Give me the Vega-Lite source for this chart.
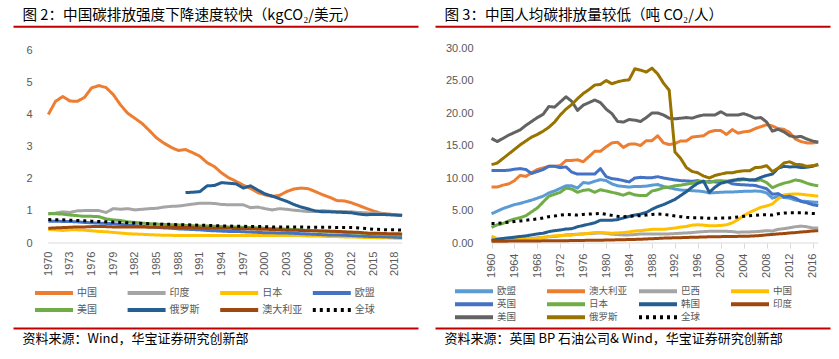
{
"$schema":"https://vega.github.io/schema/vega-lite/v6.json",
"padding":{"left":13,"top":7,"right":9,"bottom":5},
"background":"white",
"spacing":17,
"config":{"view":{"stroke":null},"font":"Noto Sans CJK SC",
"axis":{"labelColor":"#595959","labelFont":"Liberation Sans","labelFontSize":11,"grid":false,"domain":false,"ticks":false,"titleFont":"Noto Sans CJK SC","titleFontWeight":"normal","titleColor":"#000000"},
"legend":{"title":null,"orient":"none","columns":4,"direction":"horizontal","symbolType":"stroke","symbolSize":1444,"symbolStrokeWidth":4,"labelFont":"Noto Sans CJK SC","labelFontSize":10,"labelColor":"#595959","labelOffset":2,"gridAlign":"all","padding":0,"clipHeight":12}},
"datasets":{
"L":[
{"c":"中国","t":1970,"v":4.0},{"c":"中国","t":1971,"v":4.41},{"c":"中国","t":1972,"v":4.56},{"c":"中国","t":1973,"v":4.42},{"c":"中国","t":1974,"v":4.41},{"c":"中国","t":1975,"v":4.53},{"c":"中国","t":1976,"v":4.83},{"c":"中国","t":1977,"v":4.9},{"c":"中国","t":1978,"v":4.84},{"c":"中国","t":1979,"v":4.62},
{"c":"中国","t":1980,"v":4.3},{"c":"中国","t":1981,"v":4.04},{"c":"中国","t":1982,"v":3.88},{"c":"中国","t":1983,"v":3.72},{"c":"中国","t":1984,"v":3.5},{"c":"中国","t":1985,"v":3.27},{"c":"中国","t":1986,"v":3.11},{"c":"中国","t":1987,"v":2.98},{"c":"中国","t":1988,"v":2.88},{"c":"中国","t":1989,"v":2.91},
{"c":"中国","t":1990,"v":2.81},{"c":"中国","t":1991,"v":2.7},{"c":"中国","t":1992,"v":2.5},{"c":"中国","t":1993,"v":2.38},{"c":"中国","t":1994,"v":2.18},{"c":"中国","t":1995,"v":2.03},{"c":"中国","t":1996,"v":1.92},{"c":"中国","t":1997,"v":1.8},{"c":"中国","t":1998,"v":1.7},{"c":"中国","t":1999,"v":1.57},
{"c":"中国","t":2000,"v":1.5},{"c":"中国","t":2001,"v":1.45},{"c":"中国","t":2002,"v":1.48},{"c":"中国","t":2003,"v":1.6},{"c":"中国","t":2004,"v":1.68},{"c":"中国","t":2005,"v":1.71},{"c":"中国","t":2006,"v":1.69},{"c":"中国","t":2007,"v":1.6},{"c":"中国","t":2008,"v":1.5},{"c":"中国","t":2009,"v":1.42},
{"c":"中国","t":2010,"v":1.32},{"c":"中国","t":2011,"v":1.31},{"c":"中国","t":2012,"v":1.25},{"c":"中国","t":2013,"v":1.17},{"c":"中国","t":2014,"v":1.08},{"c":"中国","t":2015,"v":1.0},{"c":"中国","t":2016,"v":0.93},{"c":"中国","t":2017,"v":0.9},{"c":"中国","t":2018,"v":0.88},{"c":"中国","t":2019,"v":0.86},
{"c":"印度","t":1970,"v":0.9},{"c":"印度","t":1971,"v":0.93},{"c":"印度","t":1972,"v":0.97},{"c":"印度","t":1973,"v":0.95},{"c":"印度","t":1974,"v":1.0},{"c":"印度","t":1975,"v":1.01},{"c":"印度","t":1976,"v":1.01},{"c":"印度","t":1977,"v":1.01},{"c":"印度","t":1978,"v":0.95},{"c":"印度","t":1979,"v":1.07},
{"c":"印度","t":1980,"v":1.05},{"c":"印度","t":1981,"v":1.07},{"c":"印度","t":1982,"v":1.03},{"c":"印度","t":1983,"v":1.05},{"c":"印度","t":1984,"v":1.07},{"c":"印度","t":1985,"v":1.08},{"c":"印度","t":1986,"v":1.12},{"c":"印度","t":1987,"v":1.14},{"c":"印度","t":1988,"v":1.15},{"c":"印度","t":1989,"v":1.18},
{"c":"印度","t":1990,"v":1.21},{"c":"印度","t":1991,"v":1.24},{"c":"印度","t":1992,"v":1.24},{"c":"印度","t":1993,"v":1.23},{"c":"印度","t":1994,"v":1.2},{"c":"印度","t":1995,"v":1.19},{"c":"印度","t":1996,"v":1.19},{"c":"印度","t":1997,"v":1.19},{"c":"印度","t":1998,"v":1.1},{"c":"印度","t":1999,"v":1.12},
{"c":"印度","t":2000,"v":1.07},{"c":"印度","t":2001,"v":1.03},{"c":"印度","t":2002,"v":1.07},{"c":"印度","t":2003,"v":1.05},{"c":"印度","t":2004,"v":1.02},{"c":"印度","t":2005,"v":1.0},{"c":"印度","t":2006,"v":0.98},{"c":"印度","t":2007,"v":0.98},{"c":"印度","t":2008,"v":1.01},{"c":"印度","t":2009,"v":0.99},
{"c":"印度","t":2010,"v":0.98},{"c":"印度","t":2011,"v":0.98},{"c":"印度","t":2012,"v":0.97},{"c":"印度","t":2013,"v":0.95},{"c":"印度","t":2014,"v":0.94},{"c":"印度","t":2015,"v":0.93},{"c":"印度","t":2016,"v":0.91},{"c":"印度","t":2017,"v":0.9},{"c":"印度","t":2018,"v":0.88},{"c":"印度","t":2019,"v":0.86},
{"c":"日本","t":1970,"v":0.42},{"c":"日本","t":1971,"v":0.41},{"c":"日本","t":1972,"v":0.39},{"c":"日本","t":1973,"v":0.41},{"c":"日本","t":1974,"v":0.41},{"c":"日本","t":1975,"v":0.4},{"c":"日本","t":1976,"v":0.38},{"c":"日本","t":1977,"v":0.36},{"c":"日本","t":1978,"v":0.35},{"c":"日本","t":1979,"v":0.33},
{"c":"日本","t":1980,"v":0.31},{"c":"日本","t":1981,"v":0.29},{"c":"日本","t":1982,"v":0.28},{"c":"日本","t":1983,"v":0.27},{"c":"日本","t":1984,"v":0.26},{"c":"日本","t":1985,"v":0.25},{"c":"日本","t":1986,"v":0.24},{"c":"日本","t":1987,"v":0.24},{"c":"日本","t":1988,"v":0.23},{"c":"日本","t":1989,"v":0.23},
{"c":"日本","t":1990,"v":0.23},{"c":"日本","t":1991,"v":0.23},{"c":"日本","t":1992,"v":0.23},{"c":"日本","t":1993,"v":0.23},{"c":"日本","t":1994,"v":0.23},{"c":"日本","t":1995,"v":0.23},{"c":"日本","t":1996,"v":0.23},{"c":"日本","t":1997,"v":0.23},{"c":"日本","t":1998,"v":0.23},{"c":"日本","t":1999,"v":0.23},
{"c":"日本","t":2000,"v":0.23},{"c":"日本","t":2001,"v":0.23},{"c":"日本","t":2002,"v":0.23},{"c":"日本","t":2003,"v":0.23},{"c":"日本","t":2004,"v":0.23},{"c":"日本","t":2005,"v":0.23},{"c":"日本","t":2006,"v":0.22},{"c":"日本","t":2007,"v":0.22},{"c":"日本","t":2008,"v":0.21},{"c":"日本","t":2009,"v":0.2},
{"c":"日本","t":2010,"v":0.2},{"c":"日本","t":2011,"v":0.19},{"c":"日本","t":2012,"v":0.19},{"c":"日本","t":2013,"v":0.18},{"c":"日本","t":2014,"v":0.17},{"c":"日本","t":2015,"v":0.17},{"c":"日本","t":2016,"v":0.16},{"c":"日本","t":2017,"v":0.16},{"c":"日本","t":2018,"v":0.15},{"c":"日本","t":2019,"v":0.15},
{"c":"欧盟","t":1970,"v":0.68},{"c":"欧盟","t":1971,"v":0.68},{"c":"欧盟","t":1972,"v":0.67},{"c":"欧盟","t":1973,"v":0.67},{"c":"欧盟","t":1974,"v":0.66},{"c":"欧盟","t":1975,"v":0.64},{"c":"欧盟","t":1976,"v":0.63},{"c":"欧盟","t":1977,"v":0.62},{"c":"欧盟","t":1978,"v":0.61},{"c":"欧盟","t":1979,"v":0.6},
{"c":"欧盟","t":1980,"v":0.58},{"c":"欧盟","t":1981,"v":0.56},{"c":"欧盟","t":1982,"v":0.54},{"c":"欧盟","t":1983,"v":0.52},{"c":"欧盟","t":1984,"v":0.5},{"c":"欧盟","t":1985,"v":0.49},{"c":"欧盟","t":1986,"v":0.47},{"c":"欧盟","t":1987,"v":0.46},{"c":"欧盟","t":1988,"v":0.44},{"c":"欧盟","t":1989,"v":0.43},
{"c":"欧盟","t":1990,"v":0.42},{"c":"欧盟","t":1991,"v":0.41},{"c":"欧盟","t":1992,"v":0.39},{"c":"欧盟","t":1993,"v":0.38},{"c":"欧盟","t":1994,"v":0.37},{"c":"欧盟","t":1995,"v":0.36},{"c":"欧盟","t":1996,"v":0.36},{"c":"欧盟","t":1997,"v":0.35},{"c":"欧盟","t":1998,"v":0.34},{"c":"欧盟","t":1999,"v":0.33},
{"c":"欧盟","t":2000,"v":0.32},{"c":"欧盟","t":2001,"v":0.32},{"c":"欧盟","t":2002,"v":0.31},{"c":"欧盟","t":2003,"v":0.31},{"c":"欧盟","t":2004,"v":0.3},{"c":"欧盟","t":2005,"v":0.29},{"c":"欧盟","t":2006,"v":0.28},{"c":"欧盟","t":2007,"v":0.27},{"c":"欧盟","t":2008,"v":0.26},{"c":"欧盟","t":2009,"v":0.25},
{"c":"欧盟","t":2010,"v":0.25},{"c":"欧盟","t":2011,"v":0.24},{"c":"欧盟","t":2012,"v":0.23},{"c":"欧盟","t":2013,"v":0.22},{"c":"欧盟","t":2014,"v":0.21},{"c":"欧盟","t":2015,"v":0.2},{"c":"欧盟","t":2016,"v":0.2},{"c":"欧盟","t":2017,"v":0.19},{"c":"欧盟","t":2018,"v":0.18},{"c":"欧盟","t":2019,"v":0.17},
{"c":"美国","t":1970,"v":0.92},{"c":"美国","t":1971,"v":0.91},{"c":"美国","t":1972,"v":0.9},{"c":"美国","t":1973,"v":0.87},{"c":"美国","t":1974,"v":0.85},{"c":"美国","t":1975,"v":0.83},{"c":"美国","t":1976,"v":0.83},{"c":"美国","t":1977,"v":0.82},{"c":"美国","t":1978,"v":0.75},{"c":"美国","t":1979,"v":0.72},
{"c":"美国","t":1980,"v":0.7},{"c":"美国","t":1981,"v":0.66},{"c":"美国","t":1982,"v":0.64},{"c":"美国","t":1983,"v":0.62},{"c":"美国","t":1984,"v":0.6},{"c":"美国","t":1985,"v":0.59},{"c":"美国","t":1986,"v":0.58},{"c":"美国","t":1987,"v":0.57},{"c":"美国","t":1988,"v":0.56},{"c":"美国","t":1989,"v":0.55},
{"c":"美国","t":1990,"v":0.54},{"c":"美国","t":1991,"v":0.53},{"c":"美国","t":1992,"v":0.53},{"c":"美国","t":1993,"v":0.52},{"c":"美国","t":1994,"v":0.51},{"c":"美国","t":1995,"v":0.5},{"c":"美国","t":1996,"v":0.5},{"c":"美国","t":1997,"v":0.49},{"c":"美国","t":1998,"v":0.48},{"c":"美国","t":1999,"v":0.47},
{"c":"美国","t":2000,"v":0.46},{"c":"美国","t":2001,"v":0.45},{"c":"美国","t":2002,"v":0.44},{"c":"美国","t":2003,"v":0.43},{"c":"美国","t":2004,"v":0.42},{"c":"美国","t":2005,"v":0.41},{"c":"美国","t":2006,"v":0.39},{"c":"美国","t":2007,"v":0.38},{"c":"美国","t":2008,"v":0.37},{"c":"美国","t":2009,"v":0.35},
{"c":"美国","t":2010,"v":0.35},{"c":"美国","t":2011,"v":0.33},{"c":"美国","t":2012,"v":0.31},{"c":"美国","t":2013,"v":0.31},{"c":"美国","t":2014,"v":0.3},{"c":"美国","t":2015,"v":0.28},{"c":"美国","t":2016,"v":0.27},{"c":"美国","t":2017,"v":0.26},{"c":"美国","t":2018,"v":0.26},{"c":"美国","t":2019,"v":0.24},
{"c":"俄罗斯","t":1989,"v":1.57},
{"c":"俄罗斯","t":1990,"v":1.58},{"c":"俄罗斯","t":1991,"v":1.6},{"c":"俄罗斯","t":1992,"v":1.78},{"c":"俄罗斯","t":1993,"v":1.79},{"c":"俄罗斯","t":1994,"v":1.88},{"c":"俄罗斯","t":1995,"v":1.86},{"c":"俄罗斯","t":1996,"v":1.84},{"c":"俄罗斯","t":1997,"v":1.71},{"c":"俄罗斯","t":1998,"v":1.78},{"c":"俄罗斯","t":1999,"v":1.65},
{"c":"俄罗斯","t":2000,"v":1.53},{"c":"俄罗斯","t":2001,"v":1.46},{"c":"俄罗斯","t":2002,"v":1.38},{"c":"俄罗斯","t":2003,"v":1.3},{"c":"俄罗斯","t":2004,"v":1.2},{"c":"俄罗斯","t":2005,"v":1.12},{"c":"俄罗斯","t":2006,"v":1.06},{"c":"俄罗斯","t":2007,"v":1.0},{"c":"俄罗斯","t":2008,"v":0.97},{"c":"俄罗斯","t":2009,"v":0.97},
{"c":"俄罗斯","t":2010,"v":0.96},{"c":"俄罗斯","t":2011,"v":0.95},{"c":"俄罗斯","t":2012,"v":0.94},{"c":"俄罗斯","t":2013,"v":0.9},{"c":"俄罗斯","t":2014,"v":0.88},{"c":"俄罗斯","t":2015,"v":0.89},{"c":"俄罗斯","t":2016,"v":0.89},{"c":"俄罗斯","t":2017,"v":0.88},{"c":"俄罗斯","t":2018,"v":0.87},{"c":"俄罗斯","t":2019,"v":0.86},
{"c":"澳大利亚","t":1970,"v":0.46},{"c":"澳大利亚","t":1971,"v":0.47},{"c":"澳大利亚","t":1972,"v":0.48},{"c":"澳大利亚","t":1973,"v":0.49},{"c":"澳大利亚","t":1974,"v":0.5},{"c":"澳大利亚","t":1975,"v":0.5},{"c":"澳大利亚","t":1976,"v":0.51},{"c":"澳大利亚","t":1977,"v":0.51},{"c":"澳大利亚","t":1978,"v":0.51},{"c":"澳大利亚","t":1979,"v":0.5},
{"c":"澳大利亚","t":1980,"v":0.5},{"c":"澳大利亚","t":1981,"v":0.5},{"c":"澳大利亚","t":1982,"v":0.5},{"c":"澳大利亚","t":1983,"v":0.5},{"c":"澳大利亚","t":1984,"v":0.49},{"c":"澳大利亚","t":1985,"v":0.49},{"c":"澳大利亚","t":1986,"v":0.49},{"c":"澳大利亚","t":1987,"v":0.49},{"c":"澳大利亚","t":1988,"v":0.48},{"c":"澳大利亚","t":1989,"v":0.48},
{"c":"澳大利亚","t":1990,"v":0.48},{"c":"澳大利亚","t":1991,"v":0.47},{"c":"澳大利亚","t":1992,"v":0.47},{"c":"澳大利亚","t":1993,"v":0.46},{"c":"澳大利亚","t":1994,"v":0.46},{"c":"澳大利亚","t":1995,"v":0.46},{"c":"澳大利亚","t":1996,"v":0.45},{"c":"澳大利亚","t":1997,"v":0.44},{"c":"澳大利亚","t":1998,"v":0.44},{"c":"澳大利亚","t":1999,"v":0.43},
{"c":"澳大利亚","t":2000,"v":0.43},{"c":"澳大利亚","t":2001,"v":0.42},{"c":"澳大利亚","t":2002,"v":0.41},{"c":"澳大利亚","t":2003,"v":0.4},{"c":"澳大利亚","t":2004,"v":0.4},{"c":"澳大利亚","t":2005,"v":0.39},{"c":"澳大利亚","t":2006,"v":0.38},{"c":"澳大利亚","t":2007,"v":0.38},{"c":"澳大利亚","t":2008,"v":0.37},{"c":"澳大利亚","t":2009,"v":0.37},
{"c":"澳大利亚","t":2010,"v":0.36},{"c":"澳大利亚","t":2011,"v":0.35},{"c":"澳大利亚","t":2012,"v":0.34},{"c":"澳大利亚","t":2013,"v":0.33},{"c":"澳大利亚","t":2014,"v":0.31},{"c":"澳大利亚","t":2015,"v":0.3},{"c":"澳大利亚","t":2016,"v":0.3},{"c":"澳大利亚","t":2017,"v":0.29},{"c":"澳大利亚","t":2018,"v":0.29},{"c":"澳大利亚","t":2019,"v":0.28},
{"c":"全球","t":1970,"v":0.73},{"c":"全球","t":1971,"v":0.72},{"c":"全球","t":1972,"v":0.72},{"c":"全球","t":1973,"v":0.71},{"c":"全球","t":1974,"v":0.7},{"c":"全球","t":1975,"v":0.69},{"c":"全球","t":1976,"v":0.68},{"c":"全球","t":1977,"v":0.67},{"c":"全球","t":1978,"v":0.66},{"c":"全球","t":1979,"v":0.65},
{"c":"全球","t":1980,"v":0.64},{"c":"全球","t":1981,"v":0.63},{"c":"全球","t":1982,"v":0.62},{"c":"全球","t":1983,"v":0.61},{"c":"全球","t":1984,"v":0.6},{"c":"全球","t":1985,"v":0.59},{"c":"全球","t":1986,"v":0.58},{"c":"全球","t":1987,"v":0.58},{"c":"全球","t":1988,"v":0.57},{"c":"全球","t":1989,"v":0.57},
{"c":"全球","t":1990,"v":0.56},{"c":"全球","t":1991,"v":0.55},{"c":"全球","t":1992,"v":0.55},{"c":"全球","t":1993,"v":0.54},{"c":"全球","t":1994,"v":0.53},{"c":"全球","t":1995,"v":0.53},{"c":"全球","t":1996,"v":0.52},{"c":"全球","t":1997,"v":0.52},{"c":"全球","t":1998,"v":0.51},{"c":"全球","t":1999,"v":0.51},
{"c":"全球","t":2000,"v":0.51},{"c":"全球","t":2001,"v":0.5},{"c":"全球","t":2002,"v":0.5},{"c":"全球","t":2003,"v":0.5},{"c":"全球","t":2004,"v":0.5},{"c":"全球","t":2005,"v":0.5},{"c":"全球","t":2006,"v":0.49},{"c":"全球","t":2007,"v":0.49},{"c":"全球","t":2008,"v":0.49},{"c":"全球","t":2009,"v":0.49},
{"c":"全球","t":2010,"v":0.48},{"c":"全球","t":2011,"v":0.48},{"c":"全球","t":2012,"v":0.48},{"c":"全球","t":2013,"v":0.47},{"c":"全球","t":2014,"v":0.45},{"c":"全球","t":2015,"v":0.43},{"c":"全球","t":2016,"v":0.42},{"c":"全球","t":2017,"v":0.41},{"c":"全球","t":2018,"v":0.41},{"c":"全球","t":2019,"v":0.4}
],
"R":[
{"c":"欧盟","t":1960,"v":4.5},{"c":"欧盟","t":1961,"v":4.9},{"c":"欧盟","t":1962,"v":5.3},{"c":"欧盟","t":1963,"v":5.6},{"c":"欧盟","t":1964,"v":5.9},{"c":"欧盟","t":1965,"v":6.1},{"c":"欧盟","t":1966,"v":6.35},{"c":"欧盟","t":1967,"v":6.6},{"c":"欧盟","t":1968,"v":6.9},{"c":"欧盟","t":1969,"v":7.2},
{"c":"欧盟","t":1970,"v":7.7},{"c":"欧盟","t":1971,"v":8.0},{"c":"欧盟","t":1972,"v":8.4},{"c":"欧盟","t":1973,"v":8.8},{"c":"欧盟","t":1974,"v":8.8},{"c":"欧盟","t":1975,"v":8.45},{"c":"欧盟","t":1976,"v":9.3},{"c":"欧盟","t":1977,"v":9.2},{"c":"欧盟","t":1978,"v":9.5},{"c":"欧盟","t":1979,"v":9.75},
{"c":"欧盟","t":1980,"v":9.6},{"c":"欧盟","t":1981,"v":9.1},{"c":"欧盟","t":1982,"v":8.8},{"c":"欧盟","t":1983,"v":8.7},{"c":"欧盟","t":1984,"v":8.6},{"c":"欧盟","t":1985,"v":8.7},{"c":"欧盟","t":1986,"v":8.7},{"c":"欧盟","t":1987,"v":8.75},{"c":"欧盟","t":1988,"v":8.9},{"c":"欧盟","t":1989,"v":9.0},
{"c":"欧盟","t":1990,"v":8.7},{"c":"欧盟","t":1991,"v":8.5},{"c":"欧盟","t":1992,"v":8.3},{"c":"欧盟","t":1993,"v":8.15},{"c":"欧盟","t":1994,"v":8.1},{"c":"欧盟","t":1995,"v":8.05},{"c":"欧盟","t":1996,"v":8.0},{"c":"欧盟","t":1997,"v":7.9},{"c":"欧盟","t":1998,"v":7.7},{"c":"欧盟","t":1999,"v":7.75},
{"c":"欧盟","t":2000,"v":7.8},{"c":"欧盟","t":2001,"v":7.85},{"c":"欧盟","t":2002,"v":7.85},{"c":"欧盟","t":2003,"v":7.9},{"c":"欧盟","t":2004,"v":7.95},{"c":"欧盟","t":2005,"v":7.95},{"c":"欧盟","t":2006,"v":8.0},{"c":"欧盟","t":2007,"v":7.95},{"c":"欧盟","t":2008,"v":7.7},{"c":"欧盟","t":2009,"v":6.9},
{"c":"欧盟","t":2010,"v":7.2},{"c":"欧盟","t":2011,"v":7.0},{"c":"欧盟","t":2012,"v":6.9},{"c":"欧盟","t":2013,"v":6.6},{"c":"欧盟","t":2014,"v":6.45},{"c":"欧盟","t":2015,"v":6.4},{"c":"欧盟","t":2016,"v":6.3},{"c":"欧盟","t":2017,"v":6.25},
{"c":"澳大利亚","t":1960,"v":8.6},{"c":"澳大利亚","t":1961,"v":8.6},{"c":"澳大利亚","t":1962,"v":8.9},{"c":"澳大利亚","t":1963,"v":9.1},{"c":"澳大利亚","t":1964,"v":9.6},{"c":"澳大利亚","t":1965,"v":10.4},{"c":"澳大利亚","t":1966,"v":10.25},{"c":"澳大利亚","t":1967,"v":10.8},{"c":"澳大利亚","t":1968,"v":11.3},{"c":"澳大利亚","t":1969,"v":11.55},
{"c":"澳大利亚","t":1970,"v":11.8},{"c":"澳大利亚","t":1971,"v":11.8},{"c":"澳大利亚","t":1972,"v":11.9},{"c":"澳大利亚","t":1973,"v":12.7},{"c":"澳大利亚","t":1974,"v":12.7},{"c":"澳大利亚","t":1975,"v":12.8},{"c":"澳大利亚","t":1976,"v":12.5},{"c":"澳大利亚","t":1977,"v":13.3},{"c":"澳大利亚","t":1978,"v":14.1},{"c":"澳大利亚","t":1979,"v":14.1},
{"c":"澳大利亚","t":1980,"v":14.8},{"c":"澳大利亚","t":1981,"v":15.4},{"c":"澳大利亚","t":1982,"v":15.5},{"c":"澳大利亚","t":1983,"v":14.7},{"c":"澳大利亚","t":1984,"v":15.2},{"c":"澳大利亚","t":1985,"v":15.25},{"c":"澳大利亚","t":1986,"v":15.0},{"c":"澳大利亚","t":1987,"v":15.75},{"c":"澳大利亚","t":1988,"v":15.75},{"c":"澳大利亚","t":1989,"v":16.5},
{"c":"澳大利亚","t":1990,"v":15.4},{"c":"澳大利亚","t":1991,"v":15.15},{"c":"澳大利亚","t":1992,"v":15.3},{"c":"澳大利亚","t":1993,"v":15.7},{"c":"澳大利亚","t":1994,"v":15.7},{"c":"澳大利亚","t":1995,"v":16.3},{"c":"澳大利亚","t":1996,"v":16.4},{"c":"澳大利亚","t":1997,"v":16.5},{"c":"澳大利亚","t":1998,"v":17.1},{"c":"澳大利亚","t":1999,"v":17.3},
{"c":"澳大利亚","t":2000,"v":17.3},{"c":"澳大利亚","t":2001,"v":16.7},{"c":"澳大利亚","t":2002,"v":17.45},{"c":"澳大利亚","t":2003,"v":16.9},{"c":"澳大利亚","t":2004,"v":17.1},{"c":"澳大利亚","t":2005,"v":17.2},{"c":"澳大利亚","t":2006,"v":17.6},{"c":"澳大利亚","t":2007,"v":17.9},{"c":"澳大利亚","t":2008,"v":18.2},{"c":"澳大利亚","t":2009,"v":18.0},
{"c":"澳大利亚","t":2010,"v":17.6},{"c":"澳大利亚","t":2011,"v":17.5},{"c":"澳大利亚","t":2012,"v":17.0},{"c":"澳大利亚","t":2013,"v":16.0},{"c":"澳大利亚","t":2014,"v":15.6},{"c":"澳大利亚","t":2015,"v":15.4},{"c":"澳大利亚","t":2016,"v":15.4},{"c":"澳大利亚","t":2017,"v":15.5},
{"c":"巴西","t":1960,"v":0.6},{"c":"巴西","t":1961,"v":0.62},{"c":"巴西","t":1962,"v":0.65},{"c":"巴西","t":1963,"v":0.65},{"c":"巴西","t":1964,"v":0.65},{"c":"巴西","t":1965,"v":0.65},{"c":"巴西","t":1966,"v":0.7},{"c":"巴西","t":1967,"v":0.72},{"c":"巴西","t":1968,"v":0.8},{"c":"巴西","t":1969,"v":0.85},
{"c":"巴西","t":1970,"v":0.95},{"c":"巴西","t":1971,"v":1.0},{"c":"巴西","t":1972,"v":1.1},{"c":"巴西","t":1973,"v":1.25},{"c":"巴西","t":1974,"v":1.3},{"c":"巴西","t":1975,"v":1.35},{"c":"巴西","t":1976,"v":1.4},{"c":"巴西","t":1977,"v":1.45},{"c":"巴西","t":1978,"v":1.5},{"c":"巴西","t":1979,"v":1.55},
{"c":"巴西","t":1980,"v":1.5},{"c":"巴西","t":1981,"v":1.35},{"c":"巴西","t":1982,"v":1.3},{"c":"巴西","t":1983,"v":1.25},{"c":"巴西","t":1984,"v":1.25},{"c":"巴西","t":1985,"v":1.3},{"c":"巴西","t":1986,"v":1.4},{"c":"巴西","t":1987,"v":1.4},{"c":"巴西","t":1988,"v":1.4},{"c":"巴西","t":1989,"v":1.4},
{"c":"巴西","t":1990,"v":1.4},{"c":"巴西","t":1991,"v":1.4},{"c":"巴西","t":1992,"v":1.45},{"c":"巴西","t":1993,"v":1.5},{"c":"巴西","t":1994,"v":1.55},{"c":"巴西","t":1995,"v":1.6},{"c":"巴西","t":1996,"v":1.7},{"c":"巴西","t":1997,"v":1.75},{"c":"巴西","t":1998,"v":1.8},{"c":"巴西","t":1999,"v":1.8},
{"c":"巴西","t":2000,"v":1.8},{"c":"巴西","t":2001,"v":1.8},{"c":"巴西","t":2002,"v":1.75},{"c":"巴西","t":2003,"v":1.65},{"c":"巴西","t":2004,"v":1.7},{"c":"巴西","t":2005,"v":1.7},{"c":"巴西","t":2006,"v":1.75},{"c":"巴西","t":2007,"v":1.8},{"c":"巴西","t":2008,"v":1.9},{"c":"巴西","t":2009,"v":1.85},
{"c":"巴西","t":2010,"v":2.1},{"c":"巴西","t":2011,"v":2.2},{"c":"巴西","t":2012,"v":2.35},{"c":"巴西","t":2013,"v":2.5},{"c":"巴西","t":2014,"v":2.6},{"c":"巴西","t":2015,"v":2.5},{"c":"巴西","t":2016,"v":2.3},{"c":"巴西","t":2017,"v":2.3},
{"c":"中国","t":1960,"v":1.05},{"c":"中国","t":1961,"v":0.7},{"c":"中国","t":1962,"v":0.6},{"c":"中国","t":1963,"v":0.6},{"c":"中国","t":1964,"v":0.62},{"c":"中国","t":1965,"v":0.7},{"c":"中国","t":1966,"v":0.78},{"c":"中国","t":1967,"v":0.65},{"c":"中国","t":1968,"v":0.7},{"c":"中国","t":1969,"v":0.85},
{"c":"中国","t":1970,"v":1.0},{"c":"中国","t":1971,"v":1.1},{"c":"中国","t":1972,"v":1.15},{"c":"中国","t":1973,"v":1.2},{"c":"中国","t":1974,"v":1.2},{"c":"中国","t":1975,"v":1.35},{"c":"中国","t":1976,"v":1.4},{"c":"中国","t":1977,"v":1.5},{"c":"中国","t":1978,"v":1.6},{"c":"中国","t":1979,"v":1.6},
{"c":"中国","t":1980,"v":1.55},{"c":"中国","t":1981,"v":1.5},{"c":"中国","t":1982,"v":1.55},{"c":"中国","t":1983,"v":1.6},{"c":"中国","t":1984,"v":1.7},{"c":"中国","t":1985,"v":1.85},{"c":"中国","t":1986,"v":1.9},{"c":"中国","t":1987,"v":2.0},{"c":"中国","t":1988,"v":2.1},{"c":"中国","t":1989,"v":2.1},
{"c":"中国","t":1990,"v":2.1},{"c":"中国","t":1991,"v":2.2},{"c":"中国","t":1992,"v":2.3},{"c":"中国","t":1993,"v":2.45},{"c":"中国","t":1994,"v":2.55},{"c":"中国","t":1995,"v":2.75},{"c":"中国","t":1996,"v":2.8},{"c":"中国","t":1997,"v":2.75},{"c":"中国","t":1998,"v":2.65},{"c":"中国","t":1999,"v":2.65},
{"c":"中国","t":2000,"v":2.7},{"c":"中国","t":2001,"v":2.8},{"c":"中国","t":2002,"v":3.1},{"c":"中国","t":2003,"v":3.6},{"c":"中国","t":2004,"v":4.2},{"c":"中国","t":2005,"v":4.7},{"c":"中国","t":2006,"v":5.1},{"c":"中国","t":2007,"v":5.5},{"c":"中国","t":2008,"v":5.7},{"c":"中国","t":2009,"v":6.0},
{"c":"中国","t":2010,"v":6.8},{"c":"中国","t":2011,"v":7.4},{"c":"中国","t":2012,"v":7.5},{"c":"中国","t":2013,"v":7.55},{"c":"中国","t":2014,"v":7.5},{"c":"中国","t":2015,"v":7.4},{"c":"中国","t":2016,"v":7.3},{"c":"中国","t":2017,"v":7.2},
{"c":"英国","t":1960,"v":11.15},{"c":"英国","t":1961,"v":11.15},{"c":"英国","t":1962,"v":11.15},{"c":"英国","t":1963,"v":11.2},{"c":"英国","t":1964,"v":11.35},{"c":"英国","t":1965,"v":11.45},{"c":"英国","t":1966,"v":11.3},{"c":"英国","t":1967,"v":10.7},{"c":"英国","t":1968,"v":11.0},{"c":"英国","t":1969,"v":11.3},
{"c":"英国","t":1970,"v":11.8},{"c":"英国","t":1971,"v":11.8},{"c":"英国","t":1972,"v":11.6},{"c":"英国","t":1973,"v":11.7},{"c":"英国","t":1974,"v":10.9},{"c":"英国","t":1975,"v":10.6},{"c":"英国","t":1976,"v":10.6},{"c":"英国","t":1977,"v":10.6},{"c":"英国","t":1978,"v":10.6},{"c":"英国","t":1979,"v":11.45},
{"c":"英国","t":1980,"v":10.2},{"c":"英国","t":1981,"v":9.9},{"c":"英国","t":1982,"v":9.8},{"c":"英国","t":1983,"v":9.6},{"c":"英国","t":1984,"v":9.4},{"c":"英国","t":1985,"v":10.0},{"c":"英国","t":1986,"v":10.1},{"c":"英国","t":1987,"v":10.05},{"c":"英国","t":1988,"v":10.05},{"c":"英国","t":1989,"v":10.2},
{"c":"英国","t":1990,"v":10.0},{"c":"英国","t":1991,"v":9.85},{"c":"英国","t":1992,"v":9.7},{"c":"英国","t":1993,"v":9.6},{"c":"英国","t":1994,"v":9.55},{"c":"英国","t":1995,"v":9.5},{"c":"英国","t":1996,"v":9.6},{"c":"英国","t":1997,"v":9.4},{"c":"英国","t":1998,"v":9.45},{"c":"英国","t":1999,"v":9.4},
{"c":"英国","t":2000,"v":9.3},{"c":"英国","t":2001,"v":9.5},{"c":"英国","t":2002,"v":9.1},{"c":"英国","t":2003,"v":9.0},{"c":"英国","t":2004,"v":8.95},{"c":"英国","t":2005,"v":8.9},{"c":"英国","t":2006,"v":8.85},{"c":"英国","t":2007,"v":8.6},{"c":"英国","t":2008,"v":8.35},{"c":"英国","t":2009,"v":7.5},
{"c":"英国","t":2010,"v":7.6},{"c":"英国","t":2011,"v":7.1},{"c":"英国","t":2012,"v":7.2},{"c":"英国","t":2013,"v":6.9},{"c":"英国","t":2014,"v":6.4},{"c":"英国","t":2015,"v":6.2},{"c":"英国","t":2016,"v":5.9},{"c":"英国","t":2017,"v":5.75},
{"c":"日本","t":1960,"v":2.4},{"c":"日本","t":1961,"v":2.8},{"c":"日本","t":1962,"v":3.0},{"c":"日本","t":1963,"v":3.4},{"c":"日本","t":1964,"v":3.7},{"c":"日本","t":1965,"v":3.9},{"c":"日本","t":1966,"v":4.2},{"c":"日本","t":1967,"v":4.8},{"c":"日本","t":1968,"v":5.4},{"c":"日本","t":1969,"v":6.3},
{"c":"日本","t":1970,"v":7.2},{"c":"日本","t":1971,"v":7.5},{"c":"日本","t":1972,"v":7.8},{"c":"日本","t":1973,"v":8.45},{"c":"日本","t":1974,"v":8.3},{"c":"日本","t":1975,"v":7.8},{"c":"日本","t":1976,"v":8.1},{"c":"日本","t":1977,"v":8.2},{"c":"日本","t":1978,"v":7.8},{"c":"日本","t":1979,"v":8.2},
{"c":"日本","t":1980,"v":8.0},{"c":"日本","t":1981,"v":7.8},{"c":"日本","t":1982,"v":7.6},{"c":"日本","t":1983,"v":7.35},{"c":"日本","t":1984,"v":7.7},{"c":"日本","t":1985,"v":7.4},{"c":"日本","t":1986,"v":7.3},{"c":"日本","t":1987,"v":7.3},{"c":"日本","t":1988,"v":8.0},{"c":"日本","t":1989,"v":8.2},
{"c":"日本","t":1990,"v":8.5},{"c":"日本","t":1991,"v":8.6},{"c":"日本","t":1992,"v":8.8},{"c":"日本","t":1993,"v":8.9},{"c":"日本","t":1994,"v":9.05},{"c":"日本","t":1995,"v":9.2},{"c":"日本","t":1996,"v":9.45},{"c":"日本","t":1997,"v":9.5},{"c":"日本","t":1998,"v":9.3},{"c":"日本","t":1999,"v":9.55},
{"c":"日本","t":2000,"v":9.6},{"c":"日本","t":2001,"v":9.5},{"c":"日本","t":2002,"v":9.65},{"c":"日本","t":2003,"v":9.65},{"c":"日本","t":2004,"v":9.75},{"c":"日本","t":2005,"v":9.7},{"c":"日本","t":2006,"v":9.6},{"c":"日本","t":2007,"v":9.7},{"c":"日本","t":2008,"v":9.3},{"c":"日本","t":2009,"v":8.5},
{"c":"日本","t":2010,"v":8.9},{"c":"日本","t":2011,"v":9.2},{"c":"日本","t":2012,"v":9.4},{"c":"日本","t":2013,"v":9.7},{"c":"日本","t":2014,"v":9.55},{"c":"日本","t":2015,"v":9.2},{"c":"日本","t":2016,"v":8.95},{"c":"日本","t":2017,"v":8.8},
{"c":"韩国","t":1960,"v":0.4},{"c":"韩国","t":1961,"v":0.55},{"c":"韩国","t":1962,"v":0.7},{"c":"韩国","t":1963,"v":0.8},{"c":"韩国","t":1964,"v":0.9},{"c":"韩国","t":1965,"v":1.0},{"c":"韩国","t":1966,"v":1.1},{"c":"韩国","t":1967,"v":1.25},{"c":"韩国","t":1968,"v":1.4},{"c":"韩国","t":1969,"v":1.5},
{"c":"韩国","t":1970,"v":1.75},{"c":"韩国","t":1971,"v":1.9},{"c":"韩国","t":1972,"v":2.0},{"c":"韩国","t":1973,"v":2.15},{"c":"韩国","t":1974,"v":2.2},{"c":"韩国","t":1975,"v":2.5},{"c":"韩国","t":1976,"v":2.7},{"c":"韩国","t":1977,"v":2.9},{"c":"韩国","t":1978,"v":3.1},{"c":"韩国","t":1979,"v":3.5},
{"c":"韩国","t":1980,"v":3.5},{"c":"韩国","t":1981,"v":3.5},{"c":"韩国","t":1982,"v":3.6},{"c":"韩国","t":1983,"v":3.85},{"c":"韩国","t":1984,"v":4.1},{"c":"韩国","t":1985,"v":4.3},{"c":"韩国","t":1986,"v":4.45},{"c":"韩国","t":1987,"v":4.7},{"c":"韩国","t":1988,"v":5.2},{"c":"韩国","t":1989,"v":5.6},
{"c":"韩国","t":1990,"v":5.9},{"c":"韩国","t":1991,"v":6.3},{"c":"韩国","t":1992,"v":6.7},{"c":"韩国","t":1993,"v":7.3},{"c":"韩国","t":1994,"v":7.9},{"c":"韩国","t":1995,"v":8.6},{"c":"韩国","t":1996,"v":9.2},{"c":"韩国","t":1997,"v":9.5},{"c":"韩国","t":1998,"v":7.8},{"c":"韩国","t":1999,"v":8.6},
{"c":"韩国","t":2000,"v":9.2},{"c":"韩国","t":2001,"v":9.4},{"c":"韩国","t":2002,"v":9.6},{"c":"韩国","t":2003,"v":9.8},{"c":"韩国","t":2004,"v":9.85},{"c":"韩国","t":2005,"v":9.7},{"c":"韩国","t":2006,"v":9.75},{"c":"韩国","t":2007,"v":10.1},{"c":"韩国","t":2008,"v":10.4},{"c":"韩国","t":2009,"v":10.6},
{"c":"韩国","t":2010,"v":11.5},{"c":"韩国","t":2011,"v":11.8},{"c":"韩国","t":2012,"v":11.7},{"c":"韩国","t":2013,"v":11.75},{"c":"韩国","t":2014,"v":11.6},{"c":"韩国","t":2015,"v":11.65},{"c":"韩国","t":2016,"v":11.8},{"c":"韩国","t":2017,"v":12.1},
{"c":"印度","t":1960,"v":0.27},{"c":"印度","t":1961,"v":0.28},{"c":"印度","t":1962,"v":0.28},{"c":"印度","t":1963,"v":0.29},{"c":"印度","t":1964,"v":0.29},{"c":"印度","t":1965,"v":0.3},{"c":"印度","t":1966,"v":0.3},{"c":"印度","t":1967,"v":0.31},{"c":"印度","t":1968,"v":0.32},{"c":"印度","t":1969,"v":0.33},
{"c":"印度","t":1970,"v":0.35},{"c":"印度","t":1971,"v":0.35},{"c":"印度","t":1972,"v":0.36},{"c":"印度","t":1973,"v":0.36},{"c":"印度","t":1974,"v":0.37},{"c":"印度","t":1975,"v":0.38},{"c":"印度","t":1976,"v":0.4},{"c":"印度","t":1977,"v":0.41},{"c":"印度","t":1978,"v":0.42},{"c":"印度","t":1979,"v":0.43},
{"c":"印度","t":1980,"v":0.45},{"c":"印度","t":1981,"v":0.47},{"c":"印度","t":1982,"v":0.49},{"c":"印度","t":1983,"v":0.51},{"c":"印度","t":1984,"v":0.53},{"c":"印度","t":1985,"v":0.55},{"c":"印度","t":1986,"v":0.58},{"c":"印度","t":1987,"v":0.62},{"c":"印度","t":1988,"v":0.66},{"c":"印度","t":1989,"v":0.7},
{"c":"印度","t":1990,"v":0.75},{"c":"印度","t":1991,"v":0.78},{"c":"印度","t":1992,"v":0.8},{"c":"印度","t":1993,"v":0.82},{"c":"印度","t":1994,"v":0.85},{"c":"印度","t":1995,"v":0.88},{"c":"印度","t":1996,"v":0.9},{"c":"印度","t":1997,"v":0.93},{"c":"印度","t":1998,"v":0.95},{"c":"印度","t":1999,"v":0.97},
{"c":"印度","t":2000,"v":0.98},{"c":"印度","t":2001,"v":1.0},{"c":"印度","t":2002,"v":1.0},{"c":"印度","t":2003,"v":1.02},{"c":"印度","t":2004,"v":1.04},{"c":"印度","t":2005,"v":1.05},{"c":"印度","t":2006,"v":1.1},{"c":"印度","t":2007,"v":1.15},{"c":"印度","t":2008,"v":1.25},{"c":"印度","t":2009,"v":1.32},
{"c":"印度","t":2010,"v":1.4},{"c":"印度","t":2011,"v":1.45},{"c":"印度","t":2012,"v":1.55},{"c":"印度","t":2013,"v":1.6},{"c":"印度","t":2014,"v":1.7},{"c":"印度","t":2015,"v":1.75},{"c":"印度","t":2016,"v":1.85},{"c":"印度","t":2017,"v":1.9},
{"c":"美国","t":1960,"v":16.1},{"c":"美国","t":1961,"v":15.6},{"c":"美国","t":1962,"v":16.1},{"c":"美国","t":1963,"v":16.6},{"c":"美国","t":1964,"v":17.0},{"c":"美国","t":1965,"v":17.4},{"c":"美国","t":1966,"v":18.1},{"c":"美国","t":1967,"v":18.7},{"c":"美国","t":1968,"v":19.3},{"c":"美国","t":1969,"v":19.8},
{"c":"美国","t":1970,"v":21.0},{"c":"美国","t":1971,"v":20.9},{"c":"美国","t":1972,"v":21.7},{"c":"美国","t":1973,"v":22.5},{"c":"美国","t":1974,"v":21.8},{"c":"美国","t":1975,"v":20.4},{"c":"美国","t":1976,"v":21.2},{"c":"美国","t":1977,"v":21.6},{"c":"美国","t":1978,"v":22.0},{"c":"美国","t":1979,"v":21.6},
{"c":"美国","t":1980,"v":20.6},{"c":"美国","t":1981,"v":19.9},{"c":"美国","t":1982,"v":18.7},{"c":"美国","t":1983,"v":18.6},{"c":"美国","t":1984,"v":19.0},{"c":"美国","t":1985,"v":18.9},{"c":"美国","t":1986,"v":18.7},{"c":"美国","t":1987,"v":19.3},{"c":"美国","t":1988,"v":20.0},{"c":"美国","t":1989,"v":20.0},
{"c":"美国","t":1990,"v":19.7},{"c":"美国","t":1991,"v":19.2},{"c":"美国","t":1992,"v":19.1},{"c":"美国","t":1993,"v":19.2},{"c":"美国","t":1994,"v":19.3},{"c":"美国","t":1995,"v":19.2},{"c":"美国","t":1996,"v":19.5},{"c":"美国","t":1997,"v":19.7},{"c":"美国","t":1998,"v":19.7},{"c":"美国","t":1999,"v":19.7},
{"c":"美国","t":2000,"v":20.2},{"c":"美国","t":2001,"v":19.7},{"c":"美国","t":2002,"v":19.7},{"c":"美国","t":2003,"v":19.7},{"c":"美国","t":2004,"v":19.9},{"c":"美国","t":2005,"v":19.6},{"c":"美国","t":2006,"v":19.2},{"c":"美国","t":2007,"v":19.3},{"c":"美国","t":2008,"v":18.6},{"c":"美国","t":2009,"v":17.2},
{"c":"美国","t":2010,"v":17.5},{"c":"美国","t":2011,"v":17.1},{"c":"美国","t":2012,"v":16.5},{"c":"美国","t":2013,"v":16.3},{"c":"美国","t":2014,"v":16.4},{"c":"美国","t":2015,"v":16.0},{"c":"美国","t":2016,"v":15.7},{"c":"美国","t":2017,"v":15.5},
{"c":"俄罗斯","t":1960,"v":12.05},{"c":"俄罗斯","t":1961,"v":12.3},{"c":"俄罗斯","t":1962,"v":13.0},{"c":"俄罗斯","t":1963,"v":13.7},{"c":"俄罗斯","t":1964,"v":14.4},{"c":"俄罗斯","t":1965,"v":15.1},{"c":"俄罗斯","t":1966,"v":15.7},{"c":"俄罗斯","t":1967,"v":16.3},{"c":"俄罗斯","t":1968,"v":16.7},{"c":"俄罗斯","t":1969,"v":17.2},
{"c":"俄罗斯","t":1970,"v":17.8},{"c":"俄罗斯","t":1971,"v":18.6},{"c":"俄罗斯","t":1972,"v":19.7},{"c":"俄罗斯","t":1973,"v":20.6},{"c":"俄罗斯","t":1974,"v":21.3},{"c":"俄罗斯","t":1975,"v":22.2},{"c":"俄罗斯","t":1976,"v":23.0},{"c":"俄罗斯","t":1977,"v":23.6},{"c":"俄罗斯","t":1978,"v":24.3},{"c":"俄罗斯","t":1979,"v":24.4},
{"c":"俄罗斯","t":1980,"v":25.0},{"c":"俄罗斯","t":1981,"v":24.5},{"c":"俄罗斯","t":1982,"v":24.8},{"c":"俄罗斯","t":1983,"v":25.0},{"c":"俄罗斯","t":1984,"v":25.1},{"c":"俄罗斯","t":1985,"v":26.8},{"c":"俄罗斯","t":1986,"v":26.6},{"c":"俄罗斯","t":1987,"v":26.3},{"c":"俄罗斯","t":1988,"v":26.9},{"c":"俄罗斯","t":1989,"v":26.0},
{"c":"俄罗斯","t":1990,"v":24.6},{"c":"俄罗斯","t":1991,"v":23.5},{"c":"俄罗斯","t":1992,"v":14.0},{"c":"俄罗斯","t":1993,"v":13.0},{"c":"俄罗斯","t":1994,"v":11.6},{"c":"俄罗斯","t":1995,"v":11.0},{"c":"俄罗斯","t":1996,"v":10.8},{"c":"俄罗斯","t":1997,"v":10.3},{"c":"俄罗斯","t":1998,"v":10.0},{"c":"俄罗斯","t":1999,"v":10.4},
{"c":"俄罗斯","t":2000,"v":10.6},{"c":"俄罗斯","t":2001,"v":10.8},{"c":"俄罗斯","t":2002,"v":10.8},{"c":"俄罗斯","t":2003,"v":11.0},{"c":"俄罗斯","t":2004,"v":11.1},{"c":"俄罗斯","t":2005,"v":11.1},{"c":"俄罗斯","t":2006,"v":11.6},{"c":"俄罗斯","t":2007,"v":11.65},{"c":"俄罗斯","t":2008,"v":11.9},{"c":"俄罗斯","t":2009,"v":11.0},
{"c":"俄罗斯","t":2010,"v":11.5},{"c":"俄罗斯","t":2011,"v":12.3},{"c":"俄罗斯","t":2012,"v":12.5},{"c":"俄罗斯","t":2013,"v":12.1},{"c":"俄罗斯","t":2014,"v":12.05},{"c":"俄罗斯","t":2015,"v":11.8},{"c":"俄罗斯","t":2016,"v":11.9},{"c":"俄罗斯","t":2017,"v":12.0},
{"c":"全球","t":1960,"v":3.0},{"c":"全球","t":1961,"v":3.0},{"c":"全球","t":1962,"v":3.1},{"c":"全球","t":1963,"v":3.2},{"c":"全球","t":1964,"v":3.3},{"c":"全球","t":1965,"v":3.4},{"c":"全球","t":1966,"v":3.5},{"c":"全球","t":1967,"v":3.6},{"c":"全球","t":1968,"v":3.7},{"c":"全球","t":1969,"v":3.85},
{"c":"全球","t":1970,"v":4.05},{"c":"全球","t":1971,"v":4.15},{"c":"全球","t":1972,"v":4.3},{"c":"全球","t":1973,"v":4.4},{"c":"全球","t":1974,"v":4.35},{"c":"全球","t":1975,"v":4.3},{"c":"全球","t":1976,"v":4.4},{"c":"全球","t":1977,"v":4.45},{"c":"全球","t":1978,"v":4.5},{"c":"全球","t":1979,"v":4.55},
{"c":"全球","t":1980,"v":4.4},{"c":"全球","t":1981,"v":4.25},{"c":"全球","t":1982,"v":4.1},{"c":"全球","t":1983,"v":4.05},{"c":"全球","t":1984,"v":4.1},{"c":"全球","t":1985,"v":4.15},{"c":"全球","t":1986,"v":4.2},{"c":"全球","t":1987,"v":4.3},{"c":"全球","t":1988,"v":4.4},{"c":"全球","t":1989,"v":4.45},
{"c":"全球","t":1990,"v":4.4},{"c":"全球","t":1991,"v":4.3},{"c":"全球","t":1992,"v":4.15},{"c":"全球","t":1993,"v":4.05},{"c":"全球","t":1994,"v":3.95},{"c":"全球","t":1995,"v":3.9},{"c":"全球","t":1996,"v":3.9},{"c":"全球","t":1997,"v":3.85},{"c":"全球","t":1998,"v":3.8},{"c":"全球","t":1999,"v":3.8},
{"c":"全球","t":2000,"v":3.85},{"c":"全球","t":2001,"v":3.85},{"c":"全球","t":2002,"v":3.9},{"c":"全球","t":2003,"v":4.0},{"c":"全球","t":2004,"v":4.1},{"c":"全球","t":2005,"v":4.2},{"c":"全球","t":2006,"v":4.25},{"c":"全球","t":2007,"v":4.35},{"c":"全球","t":2008,"v":4.35},{"c":"全球","t":2009,"v":4.3},
{"c":"全球","t":2010,"v":4.5},{"c":"全球","t":2011,"v":4.6},{"c":"全球","t":2012,"v":4.65},{"c":"全球","t":2013,"v":4.65},{"c":"全球","t":2014,"v":4.65},{"c":"全球","t":2015,"v":4.6},{"c":"全球","t":2016,"v":4.55},{"c":"全球","t":2017,"v":4.55}
]},
"resolve":{"scale":{"color":"independent","strokeDash":"independent"}},
"hconcat":[
{"width":405,"height":195,"data":{"name":"L"},
"resolve":{"axis":{"x":"independent"}},
"layer":[
{"mark":{"type":"rule","color":"#D9D9D9","strokeWidth":1},
"encoding":{
"x":{"aggregate":"min","field":"t","type":"quantitative","scale":{"domain":[1965.11,2021.2],"nice":false,"zero":false},
"axis":{"orient":"top","offset":21.7,"domain":true,"domainColor":"#C00000","domainWidth":2,"labels":false,"ticks":false,"title":"图 2：中国碳排放强度下降速度较快（kgCO₂/美元）","titleAnchor":"start","titleAlign":"left","titleX":9,"titleFontSize":14.6,"titlePadding":4}},
"x2":{"aggregate":"max","field":"t"},
"y":{"datum":0,"type":"quantitative","scale":{"domain":[0,6.071],"nice":false},
"axis":{"orient":"left","values":[0,1,2,3,4,5,6],"format":"d","labelPadding":-19,"labelAlign":"right","tickSize":0,"title":null}}}},
{"transform":[{"filter":"datum.c !== '全球'"}],
"mark":{"type":"line","strokeWidth":3,"strokeJoin":"round"},
"encoding":{
"x":{"field":"t","type":"quantitative","scale":{"domain":[1965.11,2021.2],"nice":false,"zero":false},
"axis":{"orient":"bottom","values":[1970,1973,1976,1979,1982,1985,1988,1991,1994,1997,2000,2003,2006,2009,2012,2015,2018],"format":"d","labelAngle":270,"labelPadding":8,"tickSize":0,"labelOverlap":false,"labelFlush":false,"title":null}},
"y":{"field":"v","type":"quantitative","scale":{"domain":[0,6.071],"nice":false},
"axis":{"orient":"left","values":[0,1,2,3,4,5,6],"format":"d","labelPadding":-19,"labelAlign":"right","tickSize":0,"title":null}},
"color":{"field":"c","type":"nominal","scale":{"domain":["中国","印度","日本","欧盟","美国","俄罗斯","澳大利亚","全球"],"range":["#ED7D31","#A5A5A5","#FFC000","#4472C4","#70AD47","#255E91","#9E480E","#000000"]},
"legend":{"title":null,"orient":"none","legendX":20,"legendY":239,"columns":4,"columnPadding":8.6,"rowPadding":5}},
"strokeDash":{"field":"c","type":"nominal","scale":{"domain":["中国","印度","日本","欧盟","美国","俄罗斯","澳大利亚","全球"],"range":[[1,0],[1,0],[1,0],[1,0],[1,0],[1,0],[1,0],[3,4]]},
"legend":{"title":null,"orient":"none","legendX":20,"legendY":239,"columns":4,"columnPadding":8.6,"rowPadding":5}}}},
{"transform":[{"filter":"datum.c === '全球'"}],
"mark":{"type":"line","strokeWidth":3},
"encoding":{
"x":{"field":"t","type":"quantitative","scale":{"domain":[1965.11,2021.2],"nice":false,"zero":false},
"axis":{"orient":"bottom","offset":85,"domain":true,"domainColor":"#C00000","domainWidth":2,"labels":false,"ticks":false,"title":"资料来源：Wind，华宝证券研究创新部","titleAnchor":"start","titleAlign":"left","titleX":9,"titleFontSize":13,"titlePadding":4,"titleBaseline":"top"}},
"y":{"field":"v","type":"quantitative","scale":{"domain":[0,6.071],"nice":false},
"axis":{"orient":"left","values":[0,1,2,3,4,5,6],"format":"d","labelPadding":-19,"labelAlign":"right","tickSize":0,"title":null}},
"color":{"field":"c","type":"nominal","scale":{"domain":["中国","印度","日本","欧盟","美国","俄罗斯","澳大利亚","全球"],"range":["#ED7D31","#A5A5A5","#FFC000","#4472C4","#70AD47","#255E91","#9E480E","#000000"]},
"legend":{"title":null,"orient":"none","legendX":20,"legendY":239,"columns":4,"columnPadding":8.6,"rowPadding":5}},
"strokeDash":{"field":"c","type":"nominal","scale":{"domain":["中国","印度","日本","欧盟","美国","俄罗斯","澳大利亚","全球"],"range":[[1,0],[1,0],[1,0],[1,0],[1,0],[1,0],[1,0],[3,4]]},
"legend":{"title":null,"orient":"none","legendX":20,"legendY":239,"columns":4,"columnPadding":8.6,"rowPadding":5}}}}
]},
{"width":395,"height":195,"data":{"name":"R"},
"resolve":{"axis":{"x":"independent"}},
"layer":[
{"mark":{"type":"rule","color":"#D9D9D9","strokeWidth":1},
"encoding":{
"x":{"aggregate":"min","field":"t","type":"quantitative","scale":{"domain":[1950.14,2019.05],"nice":false,"zero":false},
"axis":{"orient":"top","offset":21.7,"domain":true,"domainColor":"#C00000","domainWidth":2,"labels":false,"ticks":false,"title":"图 3：中国人均碳排放量较低（吨 CO₂/人）","titleAnchor":"start","titleAlign":"left","titleX":9,"titleFontSize":14.6,"titlePadding":4}},
"x2":{"aggregate":"max","field":"t"},
"y":{"datum":0,"type":"quantitative","scale":{"domain":[0,30],"nice":false},
"axis":{"orient":"left","values":[0,5,10,15,20,25,30],"format":".2f","labelPadding":-38,"labelAlign":"right","tickSize":0,"title":null}}}},
{"transform":[{"filter":"datum.c !== '全球'"}],
"mark":{"type":"line","strokeWidth":3,"strokeJoin":"round"},
"encoding":{
"x":{"field":"t","type":"quantitative","scale":{"domain":[1950.14,2019.05],"nice":false,"zero":false},
"axis":{"orient":"bottom","values":[1960,1964,1968,1972,1976,1980,1984,1988,1992,1996,2000,2004,2008,2012,2016],"format":"d","labelAngle":270,"labelPadding":5,"ticks":true,"tickSize":5,"tickColor":"#D9D9D9","labelOverlap":false,"labelFlush":false,"title":null}},
"y":{"field":"v","type":"quantitative","scale":{"domain":[0,30],"nice":false},
"axis":{"orient":"left","values":[0,5,10,15,20,25,30],"format":".2f","labelPadding":-38,"labelAlign":"right","tickSize":0,"title":null}},
"color":{"field":"c","type":"nominal","scale":{"domain":["欧盟","澳大利亚","巴西","中国","英国","日本","韩国","印度","美国","俄罗斯","全球"],"range":["#5B9BD5","#ED7D31","#A5A5A5","#FFC000","#4472C4","#70AD47","#255E91","#9E480E","#636363","#997300","#000000"]},
"legend":{"title":null,"orient":"none","legendX":18,"legendY":237.3,"columns":4,"columnPadding":9,"rowPadding":1,"labelFontSize":9.5}},
"strokeDash":{"field":"c","type":"nominal","scale":{"domain":["欧盟","澳大利亚","巴西","中国","英国","日本","韩国","印度","美国","俄罗斯","全球"],"range":[[1,0],[1,0],[1,0],[1,0],[1,0],[1,0],[1,0],[1,0],[1,0],[1,0],[3,4]]},
"legend":{"title":null,"orient":"none","legendX":18,"legendY":237.3,"columns":4,"columnPadding":9,"rowPadding":1,"labelFontSize":9.5}}}},
{"transform":[{"filter":"datum.c === '全球'"}],
"mark":{"type":"line","strokeWidth":3},
"encoding":{
"x":{"field":"t","type":"quantitative","scale":{"domain":[1950.14,2019.05],"nice":false,"zero":false},
"axis":{"orient":"bottom","offset":85,"domain":true,"domainColor":"#C00000","domainWidth":2,"labels":false,"ticks":false,"title":"资料来源：英国 BP 石油公司& Wind，华宝证券研究创新部","titleAnchor":"start","titleAlign":"left","titleX":9,"titleFontSize":13,"titlePadding":4,"titleBaseline":"top"}},
"y":{"field":"v","type":"quantitative","scale":{"domain":[0,30],"nice":false},
"axis":{"orient":"left","values":[0,5,10,15,20,25,30],"format":".2f","labelPadding":-38,"labelAlign":"right","tickSize":0,"title":null}},
"color":{"field":"c","type":"nominal","scale":{"domain":["欧盟","澳大利亚","巴西","中国","英国","日本","韩国","印度","美国","俄罗斯","全球"],"range":["#5B9BD5","#ED7D31","#A5A5A5","#FFC000","#4472C4","#70AD47","#255E91","#9E480E","#636363","#997300","#000000"]},
"legend":{"title":null,"orient":"none","legendX":18,"legendY":237.3,"columns":4,"columnPadding":9,"rowPadding":1,"labelFontSize":9.5}},
"strokeDash":{"field":"c","type":"nominal","scale":{"domain":["欧盟","澳大利亚","巴西","中国","英国","日本","韩国","印度","美国","俄罗斯","全球"],"range":[[1,0],[1,0],[1,0],[1,0],[1,0],[1,0],[1,0],[1,0],[1,0],[1,0],[3,4]]},
"legend":{"title":null,"orient":"none","legendX":18,"legendY":237.3,"columns":4,"columnPadding":9,"rowPadding":1,"labelFontSize":9.5}}}}
]}
]
}
